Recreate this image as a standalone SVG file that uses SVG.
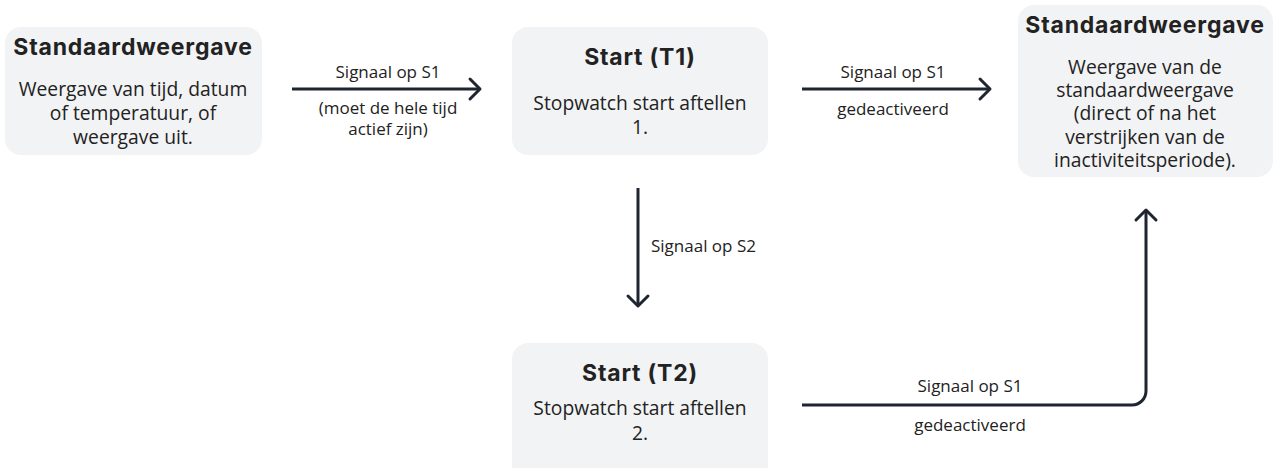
<svg xmlns="http://www.w3.org/2000/svg" width="1274" height="468" viewBox="0 0 1274 468">
<defs>
<style>
.box{fill:#f2f3f5;}
.title{font-family:Inter,"Noto Sans",sans-serif;font-weight:700;font-size:23px;letter-spacing:0.8px;fill:#222;text-anchor:middle;}
.body{font-family:"Open Sans","Noto Sans",sans-serif;font-size:19.3px;fill:#222;text-anchor:middle;}
.lbl{font-family:"Open Sans","Noto Sans",sans-serif;font-size:17px;fill:#222;text-anchor:middle;}
.line{fill:none;stroke:#1f2530;stroke-width:3;}
.head{fill:none;stroke:#1f2530;stroke-width:3;stroke-linecap:round;stroke-linejoin:round;}
</style>
</defs>
<rect width="1274" height="468" fill="#ffffff"/>
<g id="node-standaard1">
<rect class="box" x="5" y="27" width="257" height="128" rx="16"/>
<text class="title" x="133" y="55">Standaardweergave</text>
<text class="body" x="133" y="96">Weergave van tijd, datum</text>
<text class="body" x="133" y="120">of temperatuur, of</text>
<text class="body" x="133" y="144">weergave uit.</text>
</g>
<g id="node-t1">
<rect class="box" x="512" y="27" width="256" height="128" rx="16"/>
<text class="title" x="640" y="65">Start (T1)</text>
<text class="body" x="640" y="110">Stopwatch start aftellen</text>
<text class="body" x="640" y="134">1.</text>
</g>
<g id="node-standaard2">
<rect class="box" x="1018" y="5" width="255" height="172" rx="16"/>
<text class="title" x="1145" y="33">Standaardweergave</text>
<text class="body" x="1145" y="74">Weergave van de</text>
<text class="body" x="1145" y="97">standaardweergave</text>
<text class="body" x="1145" y="120">(direct of na het</text>
<text class="body" x="1145" y="144">verstrijken van de</text>
<text class="body" x="1145" y="167">inactiviteitsperiode).</text>
</g>
<g id="node-t2">
<rect class="box" x="512" y="343" width="256" height="140" rx="16"/>
<text class="title" x="640" y="381">Start (T2)</text>
<text class="body" x="640" y="415">Stopwatch start aftellen</text>
<text class="body" x="640" y="440">2.</text>
</g>
<g id="connectors">
<line class="line" x1="292" y1="89" x2="478" y2="89"/>
<polyline class="head" points="470,79 480,89 470,99"/>
<text class="lbl" x="388" y="78">Signaal op S1</text>
<text class="lbl" x="388" y="114">(moet de hele tijd</text>
<text class="lbl" x="388" y="135">actief zijn)</text>

<line class="line" x1="802" y1="89" x2="988" y2="89"/>
<polyline class="head" points="980,79 990,89 980,99"/>
<text class="lbl" x="893" y="78">Signaal op S1</text>
<text class="lbl" x="893" y="115">gedeactiveerd</text>

<line class="line" x1="638" y1="188" x2="638" y2="304"/>
<polyline class="head" points="628,296 638,306 648,296"/>
<text class="lbl" x="651" y="252" style="text-anchor:start">Signaal op S2</text>

<path class="line" d="M802,405 H1132 A14,14 0 0 0 1146,391 V212"/>
<polyline class="head" points="1136,220 1146,210 1156,220"/>
<text class="lbl" x="970" y="392">Signaal op S1</text>
<text class="lbl" x="970" y="431">gedeactiveerd</text>
</g>
</svg>
